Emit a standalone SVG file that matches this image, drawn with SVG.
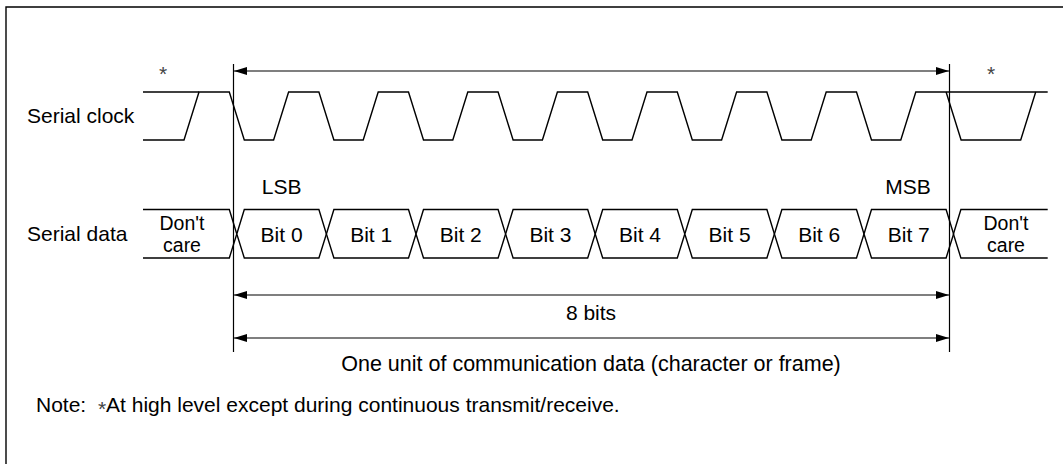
<svg xmlns="http://www.w3.org/2000/svg" width="1063" height="464" viewBox="0 0 1063 464">
<style>
  .ln { fill: none; stroke: #000; stroke-width: 1.4; stroke-linejoin: miter; }
  .thin { fill: none; stroke: #000; stroke-width: 1.2; }
  .cell { fill: #fff; stroke: #000; stroke-width: 1.4; }
  text { font-family: "Liberation Sans", Arial, sans-serif; font-size: 21px; fill: #000; }
  .c { text-anchor: middle; }
  .ast { fill: #444; }
  .big { font-size: 21.5px; }
  .dc { font-size: 19.5px; }
</style>
<defs>
  <marker id="ah" viewBox="0 0 13 8" refX="13" refY="4" markerWidth="13" markerHeight="8" markerUnits="userSpaceOnUse" orient="auto-start-reverse">
    <path d="M0,0 L13,4 L0,8 Z" fill="#000"/>
  </marker>
</defs>
<rect width="1063" height="464" fill="#fff"/>
<path class="ln" d="M6,464 V7 H1063" stroke-width="2"/>

<g id="labels">
  <text x="27" y="123">Serial clock</text>
  <text x="27" y="241">Serial data</text>
  <text class="ast c" x="163" y="81">*</text>
  <text class="ast c" x="991" y="81">*</text>
  <text class="c" x="281.6" y="194">LSB</text>
  <text class="c" x="908" y="194">MSB</text>
</g>

<g id="serial-clock">
  <path class="ln" d="M143,140 H184 L199,92 H229.3 L244.3,140 H273.6 L288.6,92 H318.9 L333.9,140 H363.2 L378.2,92 H408.5 L423.5,140 H452.8 L467.8,92 H498.1 L513.1,140 H542.4 L557.4,92 H587.7 L602.7,140 H632 L647,92 H677.3 L692.3,140 H721.6 L736.6,92 H766.9 L781.9,140 H811.2 L826.2,92 H856.5 L871.5,140 H900.8 L915.8,92 H1047.7"/>
  <path class="ln" d="M143,92 H199"/>
  <path class="ln" d="M946.1,92 L961.1,140 H1020.7 L1035.7,92"/>
</g>

<g id="dont-care-left">
  <path class="ln" d="M143,209.5 H229.3 L236.8,234 L229.3,258 H143"/>
  <text class="c dc"><tspan x="182" y="229.5">Don't</tspan><tspan x="182" y="251.5">care</tspan></text>
</g>
<g id="bit0"><polygon class="cell" points="236.8,234 244.3,209.5 318.9,209.5 326.4,234 318.9,258 244.3,258"/><text class="c" x="281.6" y="241.5">Bit 0</text></g>
<g id="bit1"><polygon class="cell" points="326.4,234 333.9,209.5 408.5,209.5 416,234 408.5,258 333.9,258"/><text class="c" x="371.2" y="241.5">Bit 1</text></g>
<g id="bit2"><polygon class="cell" points="416,234 423.5,209.5 498.1,209.5 505.6,234 498.1,258 423.5,258"/><text class="c" x="460.8" y="241.5">Bit 2</text></g>
<g id="bit3"><polygon class="cell" points="505.6,234 513.1,209.5 587.7,209.5 595.2,234 587.7,258 513.1,258"/><text class="c" x="550.4" y="241.5">Bit 3</text></g>
<g id="bit4"><polygon class="cell" points="595.2,234 602.7,209.5 677.3,209.5 684.8,234 677.3,258 602.7,258"/><text class="c" x="640" y="241.5">Bit 4</text></g>
<g id="bit5"><polygon class="cell" points="684.8,234 692.3,209.5 766.9,209.5 774.4,234 766.9,258 692.3,258"/><text class="c" x="729.6" y="241.5">Bit 5</text></g>
<g id="bit6"><polygon class="cell" points="774.4,234 781.9,209.5 856.5,209.5 864,234 856.5,258 781.9,258"/><text class="c" x="819.2" y="241.5">Bit 6</text></g>
<g id="bit7"><polygon class="cell" points="864,234 871.5,209.5 946.1,209.5 953.6,234 946.1,258 871.5,258"/><text class="c" x="908.8" y="241.5">Bit 7</text></g>
<g id="dont-care-right">
  <path class="ln" d="M1047.7,209.5 H960.9 L953.4,234 L960.9,258 H1047.7"/>
  <text class="c dc"><tspan x="1006" y="229.5">Don't</tspan><tspan x="1006" y="251.5">care</tspan></text>
</g>

<g id="connectors">
  <path class="thin" d="M233.5,64 V352"/>
  <path class="thin" d="M949.5,64 V352"/>
  <path class="thin" d="M234,71 H949" marker-start="url(#ah)" marker-end="url(#ah)"/>
  <path class="thin" d="M234,295 H949" marker-start="url(#ah)" marker-end="url(#ah)"/>
  <path class="thin" d="M234,338 H949" marker-start="url(#ah)" marker-end="url(#ah)"/>
</g>

<g id="dimension-labels">
  <text class="c" x="591" y="320">8 bits</text>
  <text class="c big" x="591" y="371">One unit of communication data (character or frame)</text>
</g>

<g id="note">
  <text x="36" y="412" xml:space="preserve">Note:  <tspan fill="#444" dy="4">*</tspan><tspan dy="-4">At high level except during continuous transmit/receive.</tspan></text>
</g>
</svg>
